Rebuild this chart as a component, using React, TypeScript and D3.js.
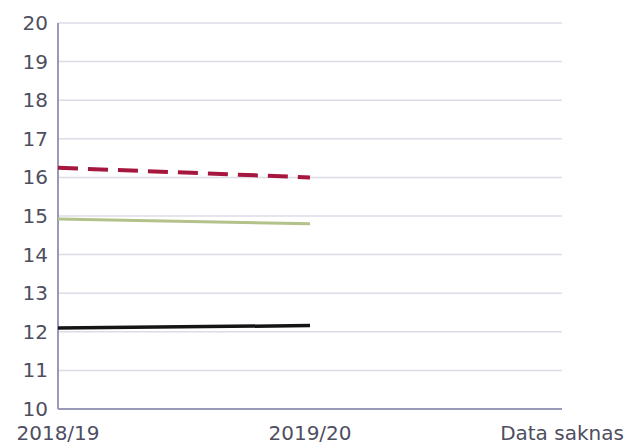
import React from 'react';
import * as d3 from 'd3';

const categories = ['2018/19', '2019/20', 'Data saknas'];
const redSeries = [16.25, 16.0];
const greenSeries = [14.92, 14.8];
const blackSeries = [12.1, 12.16];
const yTicks = [10, 11, 12, 13, 14, 15, 16, 17, 18, 19, 20];

const width = 626;
const height = 446;
const left = 58;
const right = 562;
const top = 23;
const bottom = 409;

const App = () => {
  const x = d3.scalePoint<string>().domain(categories).range([left, right]);
  const y = d3.scaleLinear().domain([10, 20]).range([bottom, top]);

  const line = d3
    .line<number>()
    .x((_, i) => x(categories[i]) as number)
    .y((d) => y(d));

  const series = [
    { values: redSeries, color: '#a6173f', width: 4, dash: '20 10' },
    { values: greenSeries, color: '#b3c18a', width: 3, dash: null },
    { values: blackSeries, color: '#151515', width: 3.5, dash: null },
  ];

  return (
    <svg
      width={width}
      height={height}
      style={{ position: 'absolute', left: 0, top: 0, fontFamily: 'DejaVu Sans' }}
    >
      <rect width={width} height={height} fill='#fff' />
      {/* grid */}
      {yTicks.map((t) => (
        <line
          key={t}
          x1={left}
          x2={right}
          y1={y(t)}
          y2={y(t)}
          stroke='#dcdce8'
          strokeWidth={1.5}
        />
      ))}
      {/* axes */}
      <line x1={left} x2={left} y1={top} y2={bottom} stroke='#9a9ab8' strokeWidth={2} />
      <line x1={left} x2={right} y1={bottom} y2={bottom} stroke='#9a9ab8' strokeWidth={2} />
      {yTicks.map((t) => (
        <text
          key={t}
          x={left - 10}
          y={y(t)}
          dy='0.35em'
          textAnchor='end'
          fontSize={20}
          fill='#4e4e60'
        >
          {t}
        </text>
      ))}
      {categories.map((c) => (
        <text
          key={c}
          x={x(c)}
          y={440}
          textAnchor='middle'
          fontSize={20}
          fill='#4e4e60'
        >
          {c}
        </text>
      ))}
      {series.map((s, i) => (
        <path
          key={i}
          d={line(s.values) || ''}
          fill='none'
          stroke={s.color}
          strokeWidth={s.width}
          strokeDasharray={s.dash || undefined}
        />
      ))}
    </svg>
  );
};

export default App;
